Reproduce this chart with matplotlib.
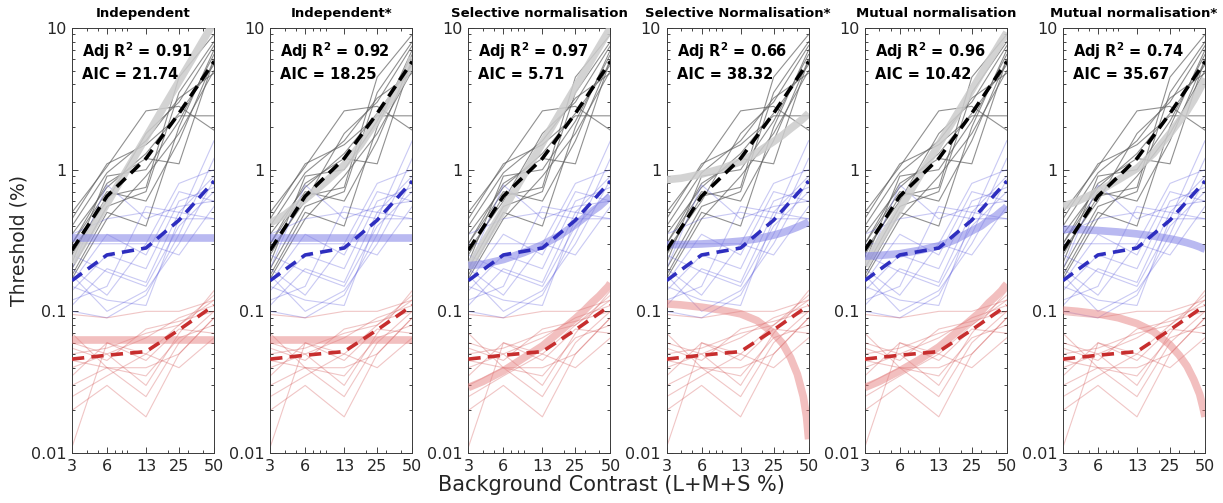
import matplotlib
matplotlib.use("Agg")
import matplotlib.pyplot as plt
from matplotlib.ticker import FixedLocator, FixedFormatter, LogLocator, NullFormatter

plt.rcParams['font.family'] = ['DejaVu Sans']

# ---------------- data ----------------
contrast = [3, 6, 13, 25, 50]
xtick_labels = ['3', '6', '13', '25', '50']
ytick_vals = [0.01, 0.1, 1, 10]
ytick_labels = ['0.01', '0.1', '1', '10']

titles = ['Independent', 'Independent*', 'Selective normalisation',
          'Selective Normalisation*', 'Mutual normalisation', 'Mutual normalisation*']
adj_r2 = ['0.91', '0.92', '0.97', '0.66', '0.96', '0.74']
aic = ['21.74', '18.25', '5.71', '38.32', '10.42', '35.67']

# individual observers (same in all panels)
gray_subjects = [
    [0.50, 1.05, 2.6, 2.8, 1.9],
    [0.45, 1.10, 1.5, 2.4, 2.4],
    [0.30, 0.80, 1.2, 1.1, 6.0],
    [0.20, 0.55, 0.7, 3.5, 8.0],
    [0.25, 0.65, 0.75, 4.5, 9.0],
    [0.18, 0.50, 0.40, 2.0, 7.0],
    [0.35, 0.75, 1.3, 2.5, 5.5],
    [0.22, 0.90, 1.0, 2.2, 6.5],
    [0.27, 0.60, 1.8, 3.0, 7.5],
    [0.17, 0.45, 0.9, 1.8, 5.0],
    [0.40, 0.95, 1.6, 3.2, 4.8],
    [0.30, 0.70, 0.6, 1.6, 6.0],
]
blue_subjects = [
    [0.20, 0.78, 0.45, 0.55, 0.60],
    [0.15, 0.12, 0.11, 0.45, 1.60],
    [0.10, 0.09, 0.13, 0.35, 1.20],
    [0.30, 0.30, 0.30, 0.80, 1.00],
    [0.25, 0.19, 0.15, 0.40, 0.70],
    [0.12, 0.15, 0.55, 0.50, 0.45],
    [0.18, 0.10, 0.14, 0.30, 0.85],
    [0.14, 0.25, 0.20, 0.60, 0.75],
    [0.35, 0.45, 0.50, 0.45, 0.45],
    [0.20, 0.13, 0.30, 0.25, 0.55],
    [0.11, 0.20, 0.16, 0.50, 0.90],
    [0.16, 0.35, 0.25, 0.70, 0.60],
]
red_subjects = [
    [0.011, 0.060, 0.050, 0.080, 0.130],
    [0.095, 0.090, 0.100, 0.100, 0.120],
    [0.020, 0.030, 0.018, 0.050, 0.090],
    [0.030, 0.040, 0.025, 0.060, 0.100],
    [0.040, 0.050, 0.030, 0.070, 0.140],
    [0.045, 0.040, 0.035, 0.065, 0.080],
    [0.060, 0.050, 0.065, 0.090, 0.110],
    [0.050, 0.055, 0.070, 0.080, 0.120],
    [0.035, 0.060, 0.045, 0.075, 0.070],
    [0.070, 0.040, 0.040, 0.050, 0.090],
    [0.025, 0.035, 0.050, 0.040, 0.065],
    [0.055, 0.045, 0.075, 0.085, 0.100],
]

# group means (dashed)
mean_gray = [0.27, 0.65, 1.2, 2.5, 5.8]
mean_blue = [0.165, 0.25, 0.28, 0.44, 0.83]
mean_red = [0.046, 0.049, 0.052, 0.074, 0.11]

# model fits (thick), sampled on fit_x
fit_x = [3, 4, 6, 9, 13, 18, 25, 30, 35, 40, 45, 48, 50]
fit_gray = [
    [0.22, 0.328, 0.577, 1.01, 1.69, 2.67, 4.2, 5.41, 6.7, 8.08, 9.5, 10.4, 11.0],
    [0.42, 0.48, 0.62, 0.82, 1.08, 1.5, 2.25, 2.8, 3.4, 4.1, 4.9, 5.6, 6.2],
    [0.20, 0.30, 0.52, 0.92, 1.54, 2.43, 3.82, 4.92, 6.1, 7.35, 8.65, 9.45, 10.0],
    [0.85, 0.87, 0.93, 1.02, 1.14, 1.32, 1.58, 1.76, 1.95, 2.12, 2.3, 2.42, 2.5],
    [0.21, 0.31, 0.53, 0.92, 1.5, 2.35, 3.65, 4.7, 5.8, 6.9, 8.1, 8.8, 9.3],
    [0.55, 0.60, 0.70, 0.85, 1.02, 1.3, 1.8, 2.2, 2.6, 3.1, 3.7, 4.1, 4.4],
]
fit_blue = [
    [0.33] * 13,
    [0.33] * 13,
    [0.21, 0.215, 0.232, 0.26, 0.295, 0.34, 0.41, 0.46, 0.51, 0.55, 0.60, 0.63, 0.65],
    [0.295, 0.296, 0.299, 0.305, 0.313, 0.325, 0.345, 0.36, 0.377, 0.393, 0.41, 0.42, 0.43],
    [0.245, 0.248, 0.255, 0.27, 0.29, 0.32, 0.37, 0.40, 0.44, 0.47, 0.51, 0.53, 0.55],
    [0.38, 0.378, 0.372, 0.363, 0.352, 0.34, 0.325, 0.315, 0.305, 0.295, 0.285, 0.278, 0.275],
]
fit_red = [
    [0.063] * 13,
    [0.063] * 13,
    [0.029, 0.032, 0.038, 0.047, 0.057, 0.071, 0.089, 0.102, 0.116, 0.128, 0.142, 0.150, 0.158],
    [0.113, 0.111, 0.107, 0.102, 0.096, 0.086, 0.070, 0.059, 0.047, 0.036, 0.025, 0.018, 0.0125],
    [0.029, 0.032, 0.038, 0.046, 0.056, 0.070, 0.088, 0.100, 0.115, 0.127, 0.140, 0.150, 0.156],
    [0.102, 0.100, 0.096, 0.090, 0.082, 0.072, 0.058, 0.049, 0.041, 0.033, 0.026, 0.021, 0.018],
]

# ---------------- styling ----------------
W, H = 1223, 503
fig = plt.figure(figsize=(W / 100, H / 100), dpi=100)

ax_left0 = 72
ax_step = 198.2
ax_w = 142
ax_top = 28
ax_bot = 453

thin_gray = (0.38, 0.38, 0.38, 0.7)
thin_blue = (0.30, 0.30, 0.85, 0.3)
thin_red = (0.82, 0.30, 0.30, 0.32)
fit_gray_c = (0.80, 0.80, 0.80, 0.85)
fit_blue_c = (0.50, 0.50, 0.90, 0.55)
fit_red_c = (0.90, 0.50, 0.50, 0.50)
dash_black = (0.0, 0.0, 0.0)
dash_blue = (0.18, 0.18, 0.75)
dash_red = (0.78, 0.18, 0.18)
txt_c = '#262626'

axes = []
for i in range(6):
    left = (ax_left0 + i * ax_step) / W
    bottom = (H - ax_bot) / H
    ax = fig.add_axes([left, bottom, ax_w / W, (ax_bot - ax_top) / H])
    axes.append(ax)

    for s in gray_subjects:
        ax.plot(contrast, s, color=thin_gray, lw=0.8, zorder=2)
    for s in blue_subjects:
        ax.plot(contrast, s, color=thin_blue, lw=0.8, zorder=2)
    for s in red_subjects:
        ax.plot(contrast, s, color=thin_red, lw=0.8, zorder=2)

    ax.plot(fit_x, fit_gray[i], color=fit_gray_c, lw=5.5, solid_capstyle='butt', zorder=3)
    ax.plot(fit_x, fit_blue[i], color=fit_blue_c, lw=5.5, solid_capstyle='butt', zorder=3)
    ax.plot(fit_x, fit_red[i], color=fit_red_c, lw=5.5, solid_capstyle='butt', zorder=3)

    for m, c in ((mean_gray, dash_black), (mean_blue, dash_blue), (mean_red, dash_red)):
        ax.plot(contrast, m, color=c, lw=2.6, ls=(0, (3.4, 2.0)), dash_capstyle='butt', zorder=4)

    ax.set_xscale('log')
    ax.set_yscale('log')
    ax.set_xlim(3, 50)
    ax.set_ylim(0.01, 10)
    ax.xaxis.set_major_locator(FixedLocator(contrast))
    ax.xaxis.set_major_formatter(FixedFormatter(xtick_labels))
    ax.xaxis.set_minor_locator(LogLocator(base=10, subs=range(2, 10)))
    ax.xaxis.set_minor_formatter(NullFormatter())
    ax.yaxis.set_major_locator(FixedLocator(ytick_vals))
    ax.yaxis.set_major_formatter(FixedFormatter(ytick_labels))
    ax.yaxis.set_minor_locator(LogLocator(base=10, subs=range(2, 10)))
    ax.yaxis.set_minor_formatter(NullFormatter())
    ax.tick_params(which='both', direction='in', top=True, right=True,
                   colors=txt_c, labelsize=11.5, width=0.6)
    ax.tick_params(which='major', length=4, pad=4)
    ax.tick_params(which='minor', length=2)
    for sp in ax.spines.values():
        sp.set_color('#3a3a3a')
        sp.set_linewidth(0.7)

    ax.set_title(titles[i], fontsize=9.5, fontweight='bold', color='black', pad=8)
    ax.text(0.07, 0.945, 'Adj R$^{\\mathbf{2}}$ = ' + adj_r2[i], transform=ax.transAxes,
            fontsize=10.5, fontweight='bold', va='center', ha='left', zorder=6)
    ax.text(0.07, 0.89, 'AIC = ' + aic[i], transform=ax.transAxes,
            fontsize=10.5, fontweight='bold', va='center', ha='left', zorder=6)

axes[0].set_ylabel('Threshold (%)', fontsize=13.5, color=txt_c, labelpad=2)
fig.text(0.5, 0.035, 'Background Contrast (L+M+S %)', ha='center', va='center',
         fontsize=15, color=txt_c)

fig.savefig('out.png', dpi=100)
